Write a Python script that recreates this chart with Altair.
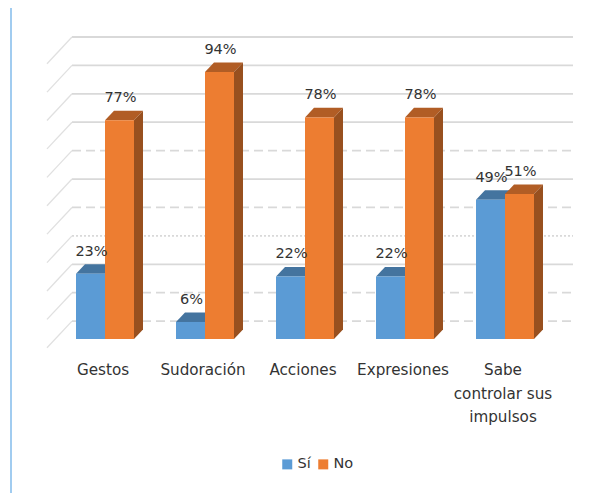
import altair as alt
import pandas as pd

categories = ["Gestos", "Sudoración", "Acciones", "Expresiones", "Sabe\ncontrolar sus\nimpulsos"]
si_values = [23, 6, 22, 22, 49]
no_values = [77, 94, 78, 78, 51]
grid_values = [0, 10, 20, 30, 40, 50, 60, 70, 80, 90, 100]
grid_styles = ["dash", "dash", "solid", "dot", "dash", "solid", "dash", "solid", "solid", "solid", "solid"]
series_names = ["Sí", "No"]
series_colors = ["#5B9BD5", "#ED7D31"]
top_colors = ["#44749F", "#B15D25"]
side_colors = ["#3E6A92", "#98501F"]

BAR = 0.29
DX, DY = 0.09, 3.35
WALL_DX, WALL_DY = 0.25, 9.4
BACK_DY = 6.3
X0, X1 = -0.97, 4.95
Y0, Y1 = -54.2, 116.5
XS = alt.Scale(domain=[X0, X1], range=[0, 592], nice=False, zero=False)
YS = alt.Scale(domain=[Y0, Y1], range=[485, 0], nice=False, zero=False)

FONT = "DejaVu Sans"
TXT = "#333333"


def qx(f):
    return alt.X(f, type="quantitative", scale=XS, axis=None)


def qy(f):
    return alt.Y(f, type="quantitative", scale=YS, axis=None)


bars, tops, sides = [], [], []
for s, (name, vals) in enumerate(zip(series_names, [si_values, no_values])):
    for i, v in enumerate(vals):
        left = i - BAR + s * BAR
        right = left + BAR
        bars.append(dict(series=name, s=s, left=left, right=right, mid=(left + right) / 2 + 0.01, v=v, lab=f"{v}%", zero=0))
        bid = f"{s}-{i}"
        tops.append(dict(id=bid, s=s, y=v, x=left, x2=right))
        tops.append(dict(id=bid, s=s, y=v + DY, x=left + DX, x2=right + DX))
        sides.append(dict(id=bid, s=s, x=right, y=v, y2=0))
        sides.append(dict(id=bid, s=s, x=right + DX, y=v + DY, y2=DY))
bars = pd.DataFrame(bars)
tops = pd.DataFrame(tops)
sides = pd.DataFrame(sides)

grid = pd.DataFrame(dict(v=[g + BACK_DY for g in grid_values], style=grid_styles))
grid["x"] = -0.33
grid["x2"] = 4.68

diag = []
for g in grid_values:
    diag.append(dict(id=g, x=-0.33 - WALL_DX, y=g + BACK_DY - WALL_DY))
    diag.append(dict(id=g, x=-0.33, y=g + BACK_DY))
diag = pd.DataFrame(diag)

grid_layer = alt.Chart(grid).mark_rule(strokeWidth=1.8).encode(
    x=qx("x"), x2="x2", y=qy("v"),
    color=alt.value("#D9D9D9"),
    strokeDash=alt.StrokeDash("style:N", legend=None, scale=alt.Scale(
        domain=["solid", "dash", "dot"], range=[[1, 0], [9, 5], [2, 2]])),
)
diag_layer = alt.Chart(diag).mark_line(strokeWidth=1.3, color="#E0E0E0").encode(
    x=qx("x"), y=qy("y"), detail="id:N"
)

layers = [grid_layer, diag_layer]
for s in range(2):
    layers.append(alt.Chart(tops[tops.s == s]).mark_area(orient="horizontal", color=top_colors[s]).encode(
        y=qy("y"), x=qx("x"), x2="x2", detail="id:N"))
    layers.append(alt.Chart(sides[sides.s == s]).mark_area(orient="vertical", color=side_colors[s]).encode(
        x=qx("x"), y=qy("y"), y2="y2", detail="id:N"))
    layers.append(alt.Chart(bars[bars.s == s]).mark_rect().encode(
        x=qx("left"), x2="right", y=qy("v"), y2="zero",
        color=alt.Color("series:N", scale=alt.Scale(domain=series_names, range=series_colors),
                        legend=alt.Legend(title=None, orient="none", legendX=272, legendY=449,
                                          direction="horizontal", columns=2, symbolType="square",
                                          symbolSize=100, symbolStrokeWidth=0, labelFont=FONT,
                                          labelFontSize=14.5, labelColor=TXT, columnPadding=5,
                                          labelOffset=3, padding=0)),
    ))

value_labels = alt.Chart(bars).mark_text(font=FONT, fontSize=14.5, color=TXT, dy=-22, baseline="middle").encode(
    x=qx("mid"), y=qy("v"), text="lab:N")

cat = pd.DataFrame(dict(x=[i - 0.02 for i in range(5)], y=[-8.5] * 5, c=categories))
cat_labels = alt.Chart(cat).mark_text(font=FONT, fontSize=15.2, color=TXT, baseline="top", lineBreak="\n",
                                      lineHeight=23.5, align="center").encode(
    x=qx("x"), y=qy("y"), text="c:N")

edge = alt.Chart(pd.DataFrame(dict(x=[X0 + 0.03], y=[Y1], y2=[Y0]))).mark_rule(color="#6FB1E8", strokeWidth=1.3).encode(
    x=qx("x"), y=qy("y"), y2="y2")

chart = alt.layer(edge, *layers, value_labels, cat_labels).properties(
    width=592, height=485, padding=0, autosize=alt.AutoSizeParams(type="none"), background="white"
).configure_view(stroke=None)

chart.save("out.html", embed_options={"renderer": "svg", "actions": False})
